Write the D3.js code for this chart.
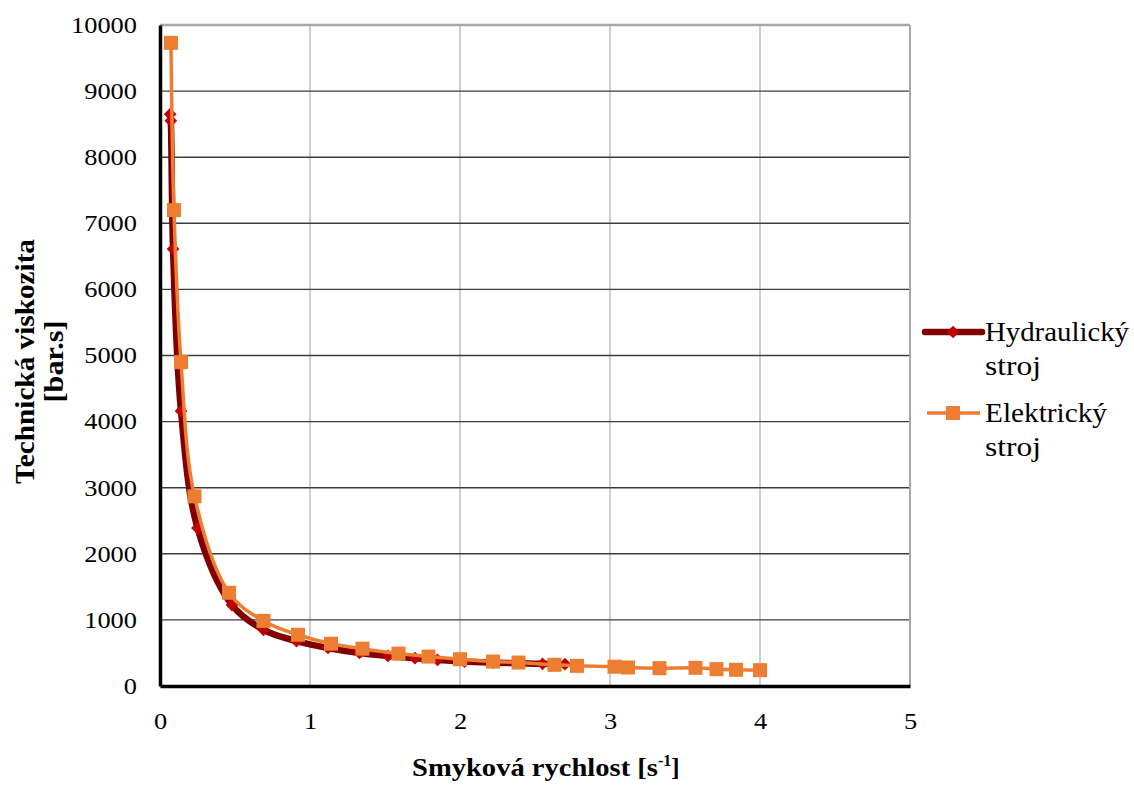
<!DOCTYPE html>
<html>
<head>
<meta charset="utf-8">
<script src="https://cdn.jsdelivr.net/npm/d3@7"></script>
<style>
  html, body { margin: 0; padding: 0; background: #fff; }
  svg { display: block; }
  svg text { font-family: 'Liberation Serif', 'DejaVu Serif', 'Times New Roman', Times, serif; }
</style>
</head>
<body>
<svg id="chart" width="1134" height="785"></svg>
<script>
// Shear rate [1/s] and technical viscosity [bar.s] for both machines
const hydraulicX = [0.068, 0.072, 0.087, 0.14, 0.25, 0.48, 0.69, 0.91, 1.12, 1.33, 1.52, 1.70, 1.85, 2.03, 2.22, 2.40, 2.55, 2.70];
const hydraulicY = [8650, 8550, 6610, 4160, 2390, 1225, 850, 680, 575, 500, 455, 420, 395, 370, 355, 345, 335, 330];

const electricX = [0.073, 0.093, 0.14, 0.23, 0.46, 0.69, 0.92, 1.14, 1.35, 1.59, 1.79, 2.00, 2.22, 2.39, 2.63, 2.78, 3.03, 3.12, 3.33, 3.57, 3.71, 3.84, 4.00];
const electricY = [9730, 7200, 4900, 2870, 1410, 985, 775, 640, 565, 490, 445, 405, 370, 355, 320, 305, 292, 280, 270, 275, 255, 245, 240];

const xTicks = [0, 1, 2, 3, 4, 5];
const yTicks = [0, 1000, 2000, 3000, 4000, 5000, 6000, 7000, 8000, 9000, 10000];

const seriesNames = ["Hydraulický stroj", "Elektrický stroj"];
const xTitle = "Smyková rychlost [s";
const xTitleSup = "-1";
const yTitleLines = ["Technická viskozita", "[bar.s]"];

const svg = d3.select("#chart");
const plotLeft = 160, plotRight = 910, plotTop = 25, plotBottom = 686;
const serif = "'Liberation Serif', 'DejaVu Serif', 'Times New Roman', serif";

const x = d3.scaleLinear().domain([0, 5]).range([plotLeft, plotRight]);
const y = d3.scaleLinear().domain([0, 10000]).range([plotBottom, plotTop]);

// Gridlines
const grid = svg.append("g");
grid.selectAll("line.v").data(xTicks.slice(1)).join("line")
  .attr("x1", d => x(d)).attr("x2", d => x(d))
  .attr("y1", plotTop).attr("y2", plotBottom)
  .attr("stroke", "#b4b4b4").attr("stroke-width", 1.3);
grid.selectAll("line.h").data(yTicks.slice(1, -1)).join("line")
  .attr("x1", plotLeft).attr("x2", plotRight)
  .attr("y1", d => y(d)).attr("y2", d => y(d))
  .attr("stroke", "#3c3c3c").attr("stroke-width", 1.4);
// Top and right frame
grid.append("line").attr("x1", plotLeft).attr("x2", plotRight).attr("y1", y(10000)).attr("y2", y(10000))
  .attr("stroke", "#a8a8a8").attr("stroke-width", 2.5);
grid.append("line").attr("x1", plotRight).attr("x2", plotRight).attr("y1", plotTop).attr("y2", plotBottom)
  .attr("stroke", "#a8a8a8").attr("stroke-width", 2);

// Axes
const xAxis = d3.axisBottom(x).tickValues(xTicks).tickSize(0).tickPadding(27).tickFormat(d3.format("d"));
const yAxis = d3.axisLeft(y).tickValues(yTicks).tickSize(0).tickPadding(23).tickFormat(d3.format("d"));

const gx = svg.append("g").attr("transform", `translate(0,${plotBottom})`).call(xAxis);
const gy = svg.append("g").attr("transform", `translate(${plotLeft},0)`).call(yAxis);
[gx, gy].forEach(g => {
  g.attr("font-family", serif);
  g.select(".domain").attr("stroke", "#000").attr("stroke-width", 3.5);
  g.selectAll("text").style("font-family", serif)
    .attr("font-size", 23).attr("fill", "#000")
    .attr("textLength", function () { return this.textContent.length * 13.2; })
    .attr("lengthAdjust", "spacingAndGlyphs");
});

// Curves
const line = d3.line().x(d => x(d[0])).y(d => y(d[1])).curve(d3.curveCatmullRom.alpha(0.5));
const hData = hydraulicX.map((v, i) => [v, hydraulicY[i]]);
const eData = electricX.map((v, i) => [v, electricY[i]]);

const plot = svg.append("g");
plot.append("path").datum(hData).attr("d", line)
  .attr("fill", "none").attr("stroke", "#800000").attr("stroke-width", 6.5)
  .attr("stroke-linejoin", "round").attr("stroke-linecap", "round");
plot.selectAll("path.hm").data(hData).join("path")
  .attr("transform", d => `translate(${x(d[0])},${y(d[1])}) rotate(45)`)
  .attr("d", "M-4.5,-4.5H4.5V4.5H-4.5Z").attr("fill", "#c00000");

plot.append("path").datum(eData).attr("d", line)
  .attr("fill", "none").attr("stroke", "#ed7d31").attr("stroke-width", 3.5)
  .attr("stroke-linejoin", "round");
plot.selectAll("rect.em").data(eData).join("rect")
  .attr("x", d => x(d[0]) - 7).attr("y", d => y(d[1]) - 7)
  .attr("width", 14).attr("height", 14).attr("fill", "#ed7d31");

// Axis titles
const xt = svg.append("text").attr("x", 412).attr("y", 776)
  .attr("font-weight", "bold").attr("font-size", 25).style("font-family", serif);
xt.append("tspan").text(xTitle).attr("textLength", 246).attr("lengthAdjust", "spacingAndGlyphs");
xt.append("tspan").attr("dy", -10).attr("font-size", 16).text(xTitleSup);
xt.append("tspan").attr("dy", 10).text("]");

const yt = svg.append("text").attr("transform", `translate(0,${(plotTop + plotBottom) / 2 + 6}) rotate(-90)`)
  .attr("text-anchor", "middle").attr("font-weight", "bold").attr("font-size", 27).style("font-family", serif);
yt.selectAll("tspan").data(yTitleLines).join("tspan")
  .attr("x", 0).attr("y", (d, i) => 34 + i * 29).text(d => d)
  .attr("textLength", (d, i) => i === 0 ? 245 : 82).attr("lengthAdjust", "spacingAndGlyphs");

// Legend
const legend = svg.append("g").attr("transform", "translate(925,0)");
const lg1 = legend.append("g").attr("transform", "translate(0,332)");
lg1.append("line").attr("x1", 0).attr("x2", 57).attr("y1", 0).attr("y2", 0)
  .attr("stroke", "#800000").attr("stroke-width", 6.5).attr("stroke-linecap", "round");
lg1.append("path").attr("transform", "translate(28,0) rotate(45)")
  .attr("d", "M-4.5,-4.5H4.5V4.5H-4.5Z").attr("fill", "#c00000");
const lg2 = legend.append("g").attr("transform", "translate(0,413)");
lg2.append("line").attr("x1", 2).attr("x2", 55).attr("y1", 0).attr("y2", 0)
  .attr("stroke", "#ed7d31").attr("stroke-width", 3.5);
lg2.append("rect").attr("x", 21).attr("y", -7).attr("width", 14).attr("height", 14).attr("fill", "#ed7d31");

const wordWidths = { "Hydraulický": 144, "Elektrický": 122, "stroj": 56 };
const labels = [[seriesNames[0].split(" "), 341], [seriesNames[1].split(" "), 422]];
labels.forEach(([words, yy]) => {
  const t = legend.append("text").attr("font-size", 27).attr("fill", "#000").style("font-family", serif);
  t.selectAll("tspan").data(words).join("tspan")
    .attr("x", 60).attr("y", (d, i) => yy + i * 34).text(d => d)
    .attr("textLength", d => wordWidths[d]).attr("lengthAdjust", "spacingAndGlyphs");
});
</script>
</body>
</html>
